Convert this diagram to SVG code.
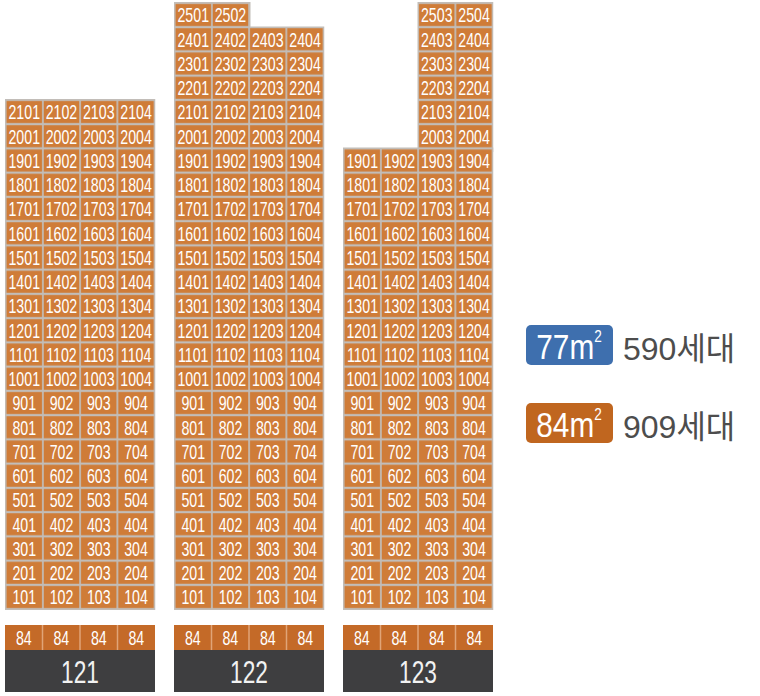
<svg xmlns="http://www.w3.org/2000/svg" width="760" height="696" viewBox="0 0 760 696">
<style>
.bg{fill:#c2bdb8}
.n text{font-family:"Liberation Sans",sans-serif;font-size:20px;fill:#fff;text-anchor:middle;transform-box:fill-box;transform-origin:center;transform:translateY(1px) scaleX(0.71)}
.p84{fill:#c46a28}
.sep{stroke:#e0a477;stroke-width:1.5}
.dark{fill:#3e3e40}
.n text.lbl{font-size:32px;fill:#f2f2f2}
.leg{font-family:"Liberation Sans",sans-serif;font-size:35px;fill:#fff;text-anchor:middle}
.cnt{font-family:"Liberation Sans","Noto Sans CJK KR",sans-serif;font-size:32px;fill:#4d4d4d}
</style>
<defs>
<pattern id="cell" patternUnits="userSpaceOnUse" x="0.625" y="2.875" width="37.25" height="24.25">
<rect width="37.25" height="24.25" fill="#c2bdb8"/>
<rect x="0.875" y="1.125" width="35.5" height="22" fill="#cf7c38"/>
</pattern>
</defs>
<rect width="760" height="696" fill="#fff"/>

<g id="b121" transform="translate(5,0)">
<rect class="bg" x="0" y="99" width="150.25" height="511"/>
<rect fill="url(#cell)" x="0.625" y="99.875" width="149" height="509.25"/>
<rect class="p84" x="0" y="625" width="150" height="25"/>
<line class="sep" x1="37.5" y1="625" x2="37.5" y2="650"/><line class="sep" x1="75" y1="625" x2="75" y2="650"/><line class="sep" x1="112.5" y1="625" x2="112.5" y2="650"/>
<rect class="dark" x="0" y="650" width="150" height="42"/>
<g class="n">
<text x="19.25" y="118.5">2101</text><text x="56.5" y="118.5">2102</text><text x="93.75" y="118.5">2103</text><text x="131" y="118.5">2104</text>
<text x="19.25" y="142.75">2001</text><text x="56.5" y="142.75">2002</text><text x="93.75" y="142.75">2003</text><text x="131" y="142.75">2004</text>
<text x="19.25" y="167">1901</text><text x="56.5" y="167">1902</text><text x="93.75" y="167">1903</text><text x="131" y="167">1904</text>
<text x="19.25" y="191.25">1801</text><text x="56.5" y="191.25">1802</text><text x="93.75" y="191.25">1803</text><text x="131" y="191.25">1804</text>
<text x="19.25" y="215.5">1701</text><text x="56.5" y="215.5">1702</text><text x="93.75" y="215.5">1703</text><text x="131" y="215.5">1704</text>
<text x="19.25" y="239.75">1601</text><text x="56.5" y="239.75">1602</text><text x="93.75" y="239.75">1603</text><text x="131" y="239.75">1604</text>
<text x="19.25" y="264">1501</text><text x="56.5" y="264">1502</text><text x="93.75" y="264">1503</text><text x="131" y="264">1504</text>
<text x="19.25" y="288.25">1401</text><text x="56.5" y="288.25">1402</text><text x="93.75" y="288.25">1403</text><text x="131" y="288.25">1404</text>
<text x="19.25" y="312.5">1301</text><text x="56.5" y="312.5">1302</text><text x="93.75" y="312.5">1303</text><text x="131" y="312.5">1304</text>
<text x="19.25" y="336.75">1201</text><text x="56.5" y="336.75">1202</text><text x="93.75" y="336.75">1203</text><text x="131" y="336.75">1204</text>
<text x="19.25" y="361">1101</text><text x="56.5" y="361">1102</text><text x="93.75" y="361">1103</text><text x="131" y="361">1104</text>
<text x="19.25" y="385.25">1001</text><text x="56.5" y="385.25">1002</text><text x="93.75" y="385.25">1003</text><text x="131" y="385.25">1004</text>
<text x="19.25" y="409.5">901</text><text x="56.5" y="409.5">902</text><text x="93.75" y="409.5">903</text><text x="131" y="409.5">904</text>
<text x="19.25" y="433.75">801</text><text x="56.5" y="433.75">802</text><text x="93.75" y="433.75">803</text><text x="131" y="433.75">804</text>
<text x="19.25" y="458">701</text><text x="56.5" y="458">702</text><text x="93.75" y="458">703</text><text x="131" y="458">704</text>
<text x="19.25" y="482.25">601</text><text x="56.5" y="482.25">602</text><text x="93.75" y="482.25">603</text><text x="131" y="482.25">604</text>
<text x="19.25" y="506.5">501</text><text x="56.5" y="506.5">502</text><text x="93.75" y="506.5">503</text><text x="131" y="506.5">504</text>
<text x="19.25" y="530.75">401</text><text x="56.5" y="530.75">402</text><text x="93.75" y="530.75">403</text><text x="131" y="530.75">404</text>
<text x="19.25" y="555">301</text><text x="56.5" y="555">302</text><text x="93.75" y="555">303</text><text x="131" y="555">304</text>
<text x="19.25" y="579.25">201</text><text x="56.5" y="579.25">202</text><text x="93.75" y="579.25">203</text><text x="131" y="579.25">204</text>
<text x="19.25" y="603.5">101</text><text x="56.5" y="603.5">102</text><text x="93.75" y="603.5">103</text><text x="131" y="603.5">104</text>
<text x="18.75" y="644">84</text><text x="56.25" y="644">84</text><text x="93.75" y="644">84</text><text x="131.25" y="644">84</text>
<text class="lbl" x="75" y="682">121</text>
</g>
</g>

<g id="b122" transform="translate(174,0)">
<rect class="bg" x="0" y="2" width="76.5" height="30"/>
<rect class="bg" x="0" y="26.5" width="150.25" height="583.5"/>
<rect fill="url(#cell)" x="0.625" y="2.875" width="74.5" height="24.25"/>
<rect fill="url(#cell)" x="0.625" y="27.125" width="149" height="582"/>
<rect class="p84" x="0" y="625" width="150" height="25"/>
<line class="sep" x1="37.5" y1="625" x2="37.5" y2="650"/><line class="sep" x1="75" y1="625" x2="75" y2="650"/><line class="sep" x1="112.5" y1="625" x2="112.5" y2="650"/>
<rect class="dark" x="0" y="650" width="150" height="42"/>
<g class="n">
<text x="19.25" y="21.5">2501</text><text x="56.5" y="21.5">2502</text>
<text x="19.25" y="45.75">2401</text><text x="56.5" y="45.75">2402</text><text x="93.75" y="45.75">2403</text><text x="131" y="45.75">2404</text>
<text x="19.25" y="70">2301</text><text x="56.5" y="70">2302</text><text x="93.75" y="70">2303</text><text x="131" y="70">2304</text>
<text x="19.25" y="94.25">2201</text><text x="56.5" y="94.25">2202</text><text x="93.75" y="94.25">2203</text><text x="131" y="94.25">2204</text>
<text x="19.25" y="118.5">2101</text><text x="56.5" y="118.5">2102</text><text x="93.75" y="118.5">2103</text><text x="131" y="118.5">2104</text>
<text x="19.25" y="142.75">2001</text><text x="56.5" y="142.75">2002</text><text x="93.75" y="142.75">2003</text><text x="131" y="142.75">2004</text>
<text x="19.25" y="167">1901</text><text x="56.5" y="167">1902</text><text x="93.75" y="167">1903</text><text x="131" y="167">1904</text>
<text x="19.25" y="191.25">1801</text><text x="56.5" y="191.25">1802</text><text x="93.75" y="191.25">1803</text><text x="131" y="191.25">1804</text>
<text x="19.25" y="215.5">1701</text><text x="56.5" y="215.5">1702</text><text x="93.75" y="215.5">1703</text><text x="131" y="215.5">1704</text>
<text x="19.25" y="239.75">1601</text><text x="56.5" y="239.75">1602</text><text x="93.75" y="239.75">1603</text><text x="131" y="239.75">1604</text>
<text x="19.25" y="264">1501</text><text x="56.5" y="264">1502</text><text x="93.75" y="264">1503</text><text x="131" y="264">1504</text>
<text x="19.25" y="288.25">1401</text><text x="56.5" y="288.25">1402</text><text x="93.75" y="288.25">1403</text><text x="131" y="288.25">1404</text>
<text x="19.25" y="312.5">1301</text><text x="56.5" y="312.5">1302</text><text x="93.75" y="312.5">1303</text><text x="131" y="312.5">1304</text>
<text x="19.25" y="336.75">1201</text><text x="56.5" y="336.75">1202</text><text x="93.75" y="336.75">1203</text><text x="131" y="336.75">1204</text>
<text x="19.25" y="361">1101</text><text x="56.5" y="361">1102</text><text x="93.75" y="361">1103</text><text x="131" y="361">1104</text>
<text x="19.25" y="385.25">1001</text><text x="56.5" y="385.25">1002</text><text x="93.75" y="385.25">1003</text><text x="131" y="385.25">1004</text>
<text x="19.25" y="409.5">901</text><text x="56.5" y="409.5">902</text><text x="93.75" y="409.5">903</text><text x="131" y="409.5">904</text>
<text x="19.25" y="433.75">801</text><text x="56.5" y="433.75">802</text><text x="93.75" y="433.75">803</text><text x="131" y="433.75">804</text>
<text x="19.25" y="458">701</text><text x="56.5" y="458">702</text><text x="93.75" y="458">703</text><text x="131" y="458">704</text>
<text x="19.25" y="482.25">601</text><text x="56.5" y="482.25">602</text><text x="93.75" y="482.25">603</text><text x="131" y="482.25">604</text>
<text x="19.25" y="506.5">501</text><text x="56.5" y="506.5">502</text><text x="93.75" y="506.5">503</text><text x="131" y="506.5">504</text>
<text x="19.25" y="530.75">401</text><text x="56.5" y="530.75">402</text><text x="93.75" y="530.75">403</text><text x="131" y="530.75">404</text>
<text x="19.25" y="555">301</text><text x="56.5" y="555">302</text><text x="93.75" y="555">303</text><text x="131" y="555">304</text>
<text x="19.25" y="579.25">201</text><text x="56.5" y="579.25">202</text><text x="93.75" y="579.25">203</text><text x="131" y="579.25">204</text>
<text x="19.25" y="603.5">101</text><text x="56.5" y="603.5">102</text><text x="93.75" y="603.5">103</text><text x="131" y="603.5">104</text>
<text x="18.75" y="644">84</text><text x="56.25" y="644">84</text><text x="93.75" y="644">84</text><text x="131.25" y="644">84</text>
<text class="lbl" x="75" y="682">122</text>
</g>
</g>

<g id="b123" transform="translate(343,0)">
<rect class="bg" x="74.5" y="2" width="75.75" height="150"/>
<rect class="bg" x="0" y="147.5" width="150.25" height="462.5"/>
<rect fill="url(#cell)" x="75.125" y="2.875" width="74.5" height="145.5"/>
<rect fill="url(#cell)" x="0.625" y="148.375" width="149" height="460.75"/>
<rect class="p84" x="0" y="625" width="150" height="25"/>
<line class="sep" x1="37.5" y1="625" x2="37.5" y2="650"/><line class="sep" x1="75" y1="625" x2="75" y2="650"/><line class="sep" x1="112.5" y1="625" x2="112.5" y2="650"/>
<rect class="dark" x="0" y="650" width="150" height="42"/>
<g class="n">
<text x="93.75" y="21.5">2503</text><text x="131" y="21.5">2504</text>
<text x="93.75" y="45.75">2403</text><text x="131" y="45.75">2404</text>
<text x="93.75" y="70">2303</text><text x="131" y="70">2304</text>
<text x="93.75" y="94.25">2203</text><text x="131" y="94.25">2204</text>
<text x="93.75" y="118.5">2103</text><text x="131" y="118.5">2104</text>
<text x="93.75" y="142.75">2003</text><text x="131" y="142.75">2004</text>
<text x="19.25" y="167">1901</text><text x="56.5" y="167">1902</text><text x="93.75" y="167">1903</text><text x="131" y="167">1904</text>
<text x="19.25" y="191.25">1801</text><text x="56.5" y="191.25">1802</text><text x="93.75" y="191.25">1803</text><text x="131" y="191.25">1804</text>
<text x="19.25" y="215.5">1701</text><text x="56.5" y="215.5">1702</text><text x="93.75" y="215.5">1703</text><text x="131" y="215.5">1704</text>
<text x="19.25" y="239.75">1601</text><text x="56.5" y="239.75">1602</text><text x="93.75" y="239.75">1603</text><text x="131" y="239.75">1604</text>
<text x="19.25" y="264">1501</text><text x="56.5" y="264">1502</text><text x="93.75" y="264">1503</text><text x="131" y="264">1504</text>
<text x="19.25" y="288.25">1401</text><text x="56.5" y="288.25">1402</text><text x="93.75" y="288.25">1403</text><text x="131" y="288.25">1404</text>
<text x="19.25" y="312.5">1301</text><text x="56.5" y="312.5">1302</text><text x="93.75" y="312.5">1303</text><text x="131" y="312.5">1304</text>
<text x="19.25" y="336.75">1201</text><text x="56.5" y="336.75">1202</text><text x="93.75" y="336.75">1203</text><text x="131" y="336.75">1204</text>
<text x="19.25" y="361">1101</text><text x="56.5" y="361">1102</text><text x="93.75" y="361">1103</text><text x="131" y="361">1104</text>
<text x="19.25" y="385.25">1001</text><text x="56.5" y="385.25">1002</text><text x="93.75" y="385.25">1003</text><text x="131" y="385.25">1004</text>
<text x="19.25" y="409.5">901</text><text x="56.5" y="409.5">902</text><text x="93.75" y="409.5">903</text><text x="131" y="409.5">904</text>
<text x="19.25" y="433.75">801</text><text x="56.5" y="433.75">802</text><text x="93.75" y="433.75">803</text><text x="131" y="433.75">804</text>
<text x="19.25" y="458">701</text><text x="56.5" y="458">702</text><text x="93.75" y="458">703</text><text x="131" y="458">704</text>
<text x="19.25" y="482.25">601</text><text x="56.5" y="482.25">602</text><text x="93.75" y="482.25">603</text><text x="131" y="482.25">604</text>
<text x="19.25" y="506.5">501</text><text x="56.5" y="506.5">502</text><text x="93.75" y="506.5">503</text><text x="131" y="506.5">504</text>
<text x="19.25" y="530.75">401</text><text x="56.5" y="530.75">402</text><text x="93.75" y="530.75">403</text><text x="131" y="530.75">404</text>
<text x="19.25" y="555">301</text><text x="56.5" y="555">302</text><text x="93.75" y="555">303</text><text x="131" y="555">304</text>
<text x="19.25" y="579.25">201</text><text x="56.5" y="579.25">202</text><text x="93.75" y="579.25">203</text><text x="131" y="579.25">204</text>
<text x="19.25" y="603.5">101</text><text x="56.5" y="603.5">102</text><text x="93.75" y="603.5">103</text><text x="131" y="603.5">104</text>
<text x="18.75" y="644">84</text><text x="56.25" y="644">84</text><text x="93.75" y="644">84</text><text x="131.25" y="644">84</text>
<text class="lbl" x="75" y="682">123</text>
</g>
</g>

<g id="legend77">
<rect x="526" y="325" width="87" height="40" rx="5" fill="#3e6fae"/>
<g transform="translate(569,0) scale(0.85,1)"><text class="leg" x="0" y="359">77m<tspan font-size="16" dy="-17">2</tspan></text></g>
<text class="cnt" x="623" y="360">590세대</text>
</g>
<g id="legend84">
<rect x="526" y="403" width="87" height="40" rx="5" fill="#c0661f"/>
<g transform="translate(569,0) scale(0.85,1)"><text class="leg" x="0" y="437">84m<tspan font-size="16" dy="-17">2</tspan></text></g>
<text class="cnt" x="623" y="438">909세대</text>
</g>
</svg>
